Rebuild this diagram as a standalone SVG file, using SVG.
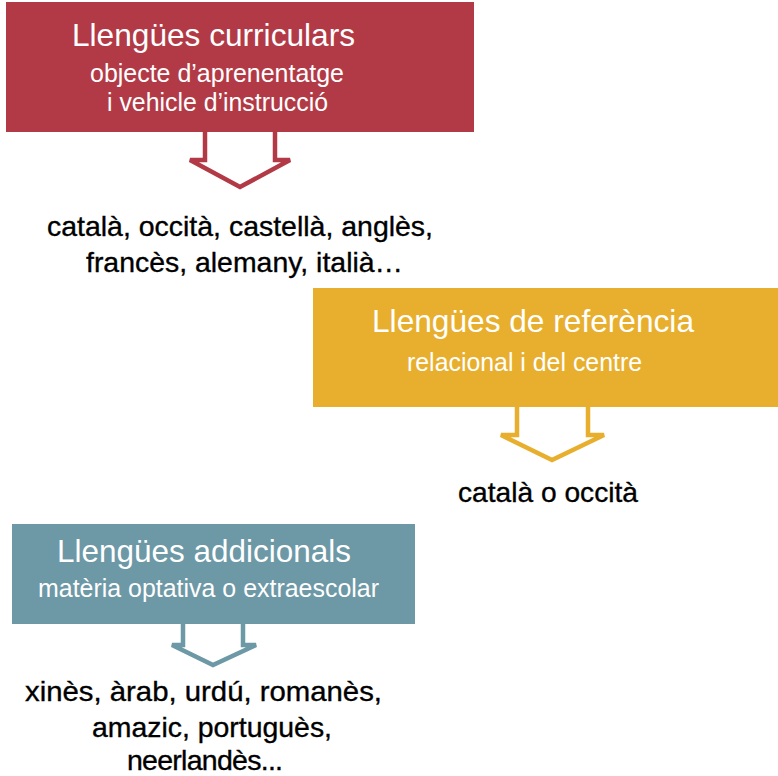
<svg xmlns="http://www.w3.org/2000/svg" width="778" height="776" viewBox="0 0 778 776">
<style>
text{font-family:"Liberation Sans",Arial,sans-serif}
.t{fill:#fff;font-size:31.6px}
.s{fill:#fff;font-size:25px}
.b{fill:#000;font-size:28.5px;stroke:#000;stroke-width:0.35}
.ar{fill:#fff;stroke-width:4.5;stroke-linejoin:miter}
</style>
<rect width="778" height="776" fill="#fff"/>
<g id="connectors">
<polyline class="ar" stroke="#B23A46" points="205,131 205,160 190,160 240,187 290,160 275,160 275,131"/>
<polyline class="ar" stroke="#E8AF2E" points="517,406 517,435 501,435 552,460 604,435 588,435 588,406"/>
<polyline class="ar" stroke="#6D98A6" points="183,623 183,645 172,645 213,665 256,645 243,645 243,623"/>
</g>
<g id="curriculars">
<rect x="6" y="2" width="468" height="130" fill="#B23A46"/>
<text class="t" x="72" y="46" textLength="283" lengthAdjust="spacingAndGlyphs">Llengües curriculars</text>
<text class="s" x="90" y="82" textLength="254" lengthAdjust="spacingAndGlyphs">objecte d’aprenentatge</text>
<text class="s" x="107" y="111" textLength="221" lengthAdjust="spacingAndGlyphs">i vehicle d’instrucció</text>
</g>
<g id="curriculars-list">
<text class="b" x="47" y="236" textLength="386" lengthAdjust="spacingAndGlyphs">català, occità, castellà, anglès,</text>
<text class="b" x="86" y="272" textLength="317" lengthAdjust="spacingAndGlyphs">francès, alemany, italià…</text>
</g>
<g id="referencia">
<rect x="313" y="288" width="465" height="119" fill="#E8AF2E"/>
<text class="t" x="372" y="332" textLength="322" lengthAdjust="spacingAndGlyphs">Llengües de referència</text>
<text class="s" x="407" y="371" textLength="235" lengthAdjust="spacingAndGlyphs">relacional i del centre</text>
</g>
<g id="referencia-list">
<text class="b" x="458" y="502" textLength="180" lengthAdjust="spacingAndGlyphs">català o occità</text>
</g>
<g id="addicionals">
<rect x="12" y="524" width="403" height="100" fill="#6D98A6"/>
<text class="t" x="57" y="562" textLength="294" lengthAdjust="spacingAndGlyphs">Llengües addicionals</text>
<text class="s" x="38" y="597" textLength="341" lengthAdjust="spacingAndGlyphs">matèria optativa o extraescolar</text>
</g>
<g id="addicionals-list">
<text class="b" x="25" y="701" textLength="357" lengthAdjust="spacingAndGlyphs">xinès, àrab, urdú, romanès,</text>
<text class="b" x="92" y="737" textLength="240" lengthAdjust="spacingAndGlyphs">amazic, portuguès,</text>
<text class="b" x="127" y="770" textLength="156" lengthAdjust="spacing">neerlandès...</text>
</g>
</svg>
